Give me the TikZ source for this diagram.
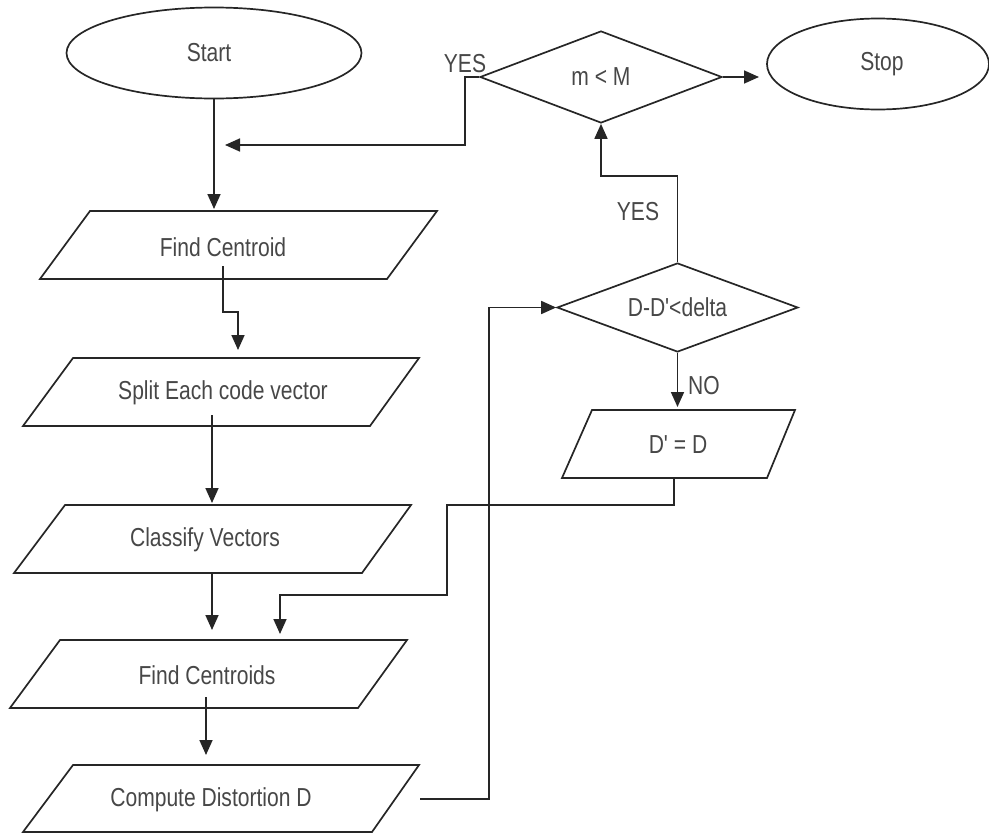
\documentclass[tikz,border=0pt]{standalone}
\usepackage{fontspec}
\setmainfont{Liberation Sans}[FakeStretch=0.81,Ligatures=TeXOff]
\usetikzlibrary{shapes.geometric,arrows.meta}
\begin{document}
\begin{tikzpicture}[x=1pt,y=-1pt,
  line/.style={draw=black!85,line width=1.7pt},
  arr/.style={line,-{Triangle[length=15pt,width=13pt]}},
  lbl/.style={text=black!72,font=\fontsize{26}{30}\selectfont,inner sep=0pt},
  term/.style={ellipse,line,inner sep=0pt,text=black!72,font=\fontsize{26}{30}\selectfont},
  dec/.style={diamond,line,inner sep=0pt,aspect=2.6,text=black!72,font=\fontsize{26}{30}\selectfont},
  parabox/.style={line,line join=miter}]
\useasboundingbox (0,0) rectangle (989,833);

% terminals
\node[term,minimum width=295pt,minimum height=91pt] (start) at (214,53) {\hspace*{-10pt}Start};
\node[term,minimum width=222pt,minimum height=91pt] (stop) at (878,64) {\hspace*{8pt}Stop};

% decisions
\node[dec,minimum width=242pt,minimum height=92pt] (mm) at (601,77) {m < M};
\node[dec,minimum width=241pt,minimum height=89pt] (ddia) at (677.5,307.5) {D-D'<delta};

% parallelograms
\draw[parabox] (90,211) -- (437,211) -- (387,279) -- (40,279) -- cycle;
\node[lbl] (fc) at (223,247) {Find Centroid};
\draw[parabox] (73,358) -- (419,358) -- (370,426) -- (23,426) -- cycle;
\node[lbl] (sp) at (223,393) {Split Each code vector};
\draw[parabox] (65,505) -- (411,505) -- (362,573) -- (14,573) -- cycle;
\node[lbl] (cv) at (205,540) {Classify Vectors};
\draw[parabox] (60,640) -- (407,640) -- (358,708) -- (10,708) -- cycle;
\node[lbl] (fcs) at (207,675) {Find Centroids};
\draw[parabox] (73,765) -- (419,765) -- (372,832) -- (23,832) -- cycle;
\node[lbl] (cd) at (211,800) {Compute Distortion D};
\draw[parabox] (592,410) -- (795,410) -- (767,478) -- (562,478) -- cycle;
\node[lbl] (dd) at (678,445) {D' = D};

% connector end points
\coordinate (fcin) at (214,209);
\coordinate (loopc) at (465,145);
\coordinate (loopend) at (225,145);
\coordinate (fcout) at (223,266);
\coordinate (spin) at (238,350);
\coordinate (spout) at (212,415);
\coordinate (cvin) at (212,503);
\coordinate (cvout) at (212,573);
\coordinate (fcsin) at (212,630);
\coordinate (ddout) at (674,478);
\coordinate (fcsin2) at (280,634);
\coordinate (fcsout) at (206,697);
\coordinate (cdin) at (206,755);
\coordinate (cdout) at (420,799);
\coordinate (ddin) at (677.5,407);
\coordinate (stopin) at (759,77);

% connectors
\draw[arr] (start.south) -- (fcin);
\draw[arr] (mm.west) -| (loopc) -- (loopend);
\draw[arr] (fcout) -- ++(0,46) -| (spin);
\draw[arr] (spout) -- (cvin);
\draw[arr] (cvout) -- (fcsin);
\draw[arr] (ddout) -- ++(0,27) -| ++(-227,90) -| (fcsin2);
\draw[arr] (fcsout) -- (cdin);
\draw[arr] (cdout) -| ++(69,-200) |- (ddia.west);
\draw[arr] (ddia.south) -- (ddin);
\draw[arr] (ddia.north) -- ++(0,-86) -| (mm.south);
\draw[arr] (mm.east) -- (stopin);

% labels
\node[lbl] (yes1) at (465,64) {YES};
\node[lbl] (yes2) at (638,212) {YES};
\node[lbl] (no) at (704,386) {NO};
\end{tikzpicture}
\end{document}
